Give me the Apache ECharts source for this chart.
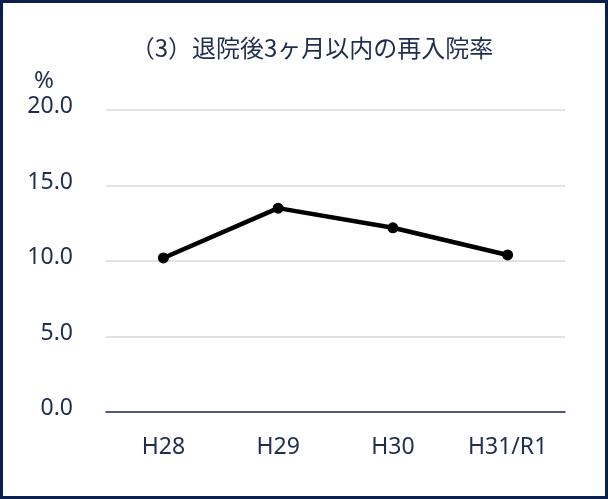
<!DOCTYPE html>
<html><head><meta charset="utf-8">
<script src="https://cdn.jsdelivr.net/npm/echarts@6/dist/echarts.min.js"></script>
<style>html,body{margin:0;padding:0;background:#fff}#c{width:608px;height:499px}</style>
</head><body><div id="c"></div>
<script>
const categories = ['H28', 'H29', 'H30', 'H31/R1'];
const values = [10.2, 13.5, 12.2, 10.4];
const titleText = '（3）退院後3ヶ月以内の再入院率';
const unitText = '%';

const txt = '#1f2d4e';
const chart = echarts.init(document.getElementById('c'));
chart.setOption({
  backgroundColor: '#fff',
  animation: false,
  title: [
    { text: unitText, left: 29, top: 64,
      textStyle: { fontFamily: 'Noto Sans', fontWeight: 'normal', fontSize: 24, color: txt } }
  ],
  graphic: [
    { type: 'rect', shape: { x: 1.5, y: 1.5, width: 605, height: 496 },
      style: { fill: 'none', stroke: '#0b1f4d', lineWidth: 3 }, silent: true },
    { type: 'text', x: 312, y: 48, silent: true,
      style: { text: titleText, fill: txt, align: 'center', verticalAlign: 'middle',
        font: '24px "Noto Sans CJK JP"' } }
  ],
  grid: { left: 106, right: 43, top: 110, bottom: 87 },
  xAxis: {
    type: 'category', data: categories, boundaryGap: true,
    axisLine: { lineStyle: { color: '#1f2d4e', width: 1.5 } },
    axisTick: { show: false },
    axisLabel: { margin: 24, fontFamily: 'Noto Sans', fontSize: 23, color: txt }
  },
  yAxis: {
    type: 'value', min: 0, max: 20, interval: 5,
    axisLine: { show: false }, axisTick: { show: false },
    splitLine: { lineStyle: { color: '#d9d9d9', width: 1.5 } },
    axisLabel: { margin: 33, fontFamily: 'Noto Sans', fontSize: 23, color: txt,
      verticalAlign: 'bottom', lineHeight: 23, padding: [0, 0, -8, 0],
      formatter: v => v.toFixed(1) }
  },
  series: [{
    type: 'line', data: values,
    lineStyle: { color: '#000', width: 4.5 },
    itemStyle: { color: '#000' },
    symbol: 'circle', symbolSize: 11
  }]
});
</script></body></html>
